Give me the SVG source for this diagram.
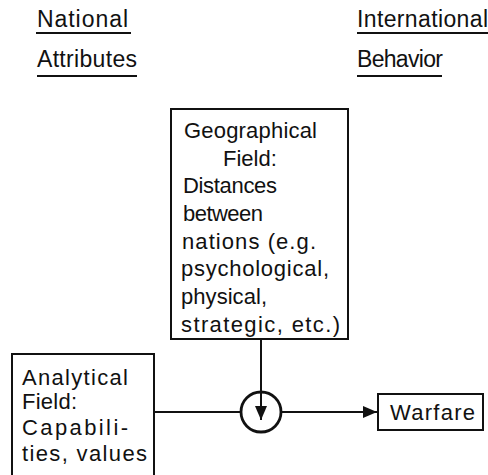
<svg xmlns="http://www.w3.org/2000/svg" width="488" height="475" viewBox="0 0 488 475">
  <style>
    text { font-family: "Liberation Sans", Arial, sans-serif; fill: #111; }
    .hd { font-size: 23px; }
    .bx { font-size: 22px; }
    .box { fill: #fff; stroke: #111; stroke-width: 2; }
    .ul { stroke: #111; stroke-width: 1.8; }
    .conn { stroke: #111; stroke-width: 2; fill: none; }
  </style>
  <defs>
    <marker id="arr" viewBox="0 0 14 12" refX="14" refY="6" markerWidth="14" markerHeight="12" markerUnits="userSpaceOnUse" orient="auto">
      <path d="M0,0 L14,6 L0,12 Z" fill="#111"/>
    </marker>
  </defs>
  <rect width="488" height="475" fill="#fff"/>

  <g id="header-national">
    <text class="hd" x="37" y="27" textLength="91" lengthAdjust="spacing">National</text>
    <line class="ul" x1="36" y1="33" x2="131" y2="33"/>
    <text class="hd" x="37" y="67" textLength="100" lengthAdjust="spacing">Attributes</text>
    <line class="ul" x1="37" y1="76" x2="137" y2="76"/>
  </g>
  <g id="header-international">
    <text class="hd" x="357" y="27" textLength="131" lengthAdjust="spacing">International</text>
    <line class="ul" x1="357" y1="33" x2="488" y2="33"/>
    <text class="hd" x="357" y="67" textLength="86" lengthAdjust="spacing">Behavior</text>
    <line class="ul" x1="357" y1="76" x2="442" y2="76"/>
  </g>

  <g id="node-geographical">
    <rect class="box" x="171" y="109" width="177" height="230"/>
    <text class="bx" x="184" y="138" textLength="133" lengthAdjust="spacing">Geographical</text>
    <text class="bx" x="223" y="166">Field:</text>
    <text class="bx" x="183" y="193" textLength="94" lengthAdjust="spacing">Distances</text>
    <text class="bx" x="183" y="221" textLength="80" lengthAdjust="spacing">between</text>
    <text class="bx" x="182" y="249" textLength="134" lengthAdjust="spacing">nations (e.g.</text>
    <text class="bx" x="181" y="276" textLength="148" lengthAdjust="spacing">psychological,</text>
    <text class="bx" x="181" y="304" textLength="86" lengthAdjust="spacing">physical,</text>
    <text class="bx" x="181" y="332" textLength="159" lengthAdjust="spacing">strategic, etc.)</text>
  </g>

  <g id="node-analytical">
    <rect class="box" x="12" y="354" width="142" height="130"/>
    <text class="bx" x="22" y="385" textLength="106" lengthAdjust="spacing">Analytical</text>
    <text class="bx" x="22" y="409" textLength="55" lengthAdjust="spacing">Field:</text>
    <text class="bx" x="22" y="435" textLength="106" lengthAdjust="spacing">Capabili-</text>
    <text class="bx" x="22" y="461" textLength="125" lengthAdjust="spacing">ties, values</text>
  </g>

  <g id="node-junction">
    <circle cx="261" cy="412" r="20" fill="#fff" stroke="#111" stroke-width="2.8"/>
  </g>

  <g id="node-warfare">
    <rect class="box" x="378" y="394" width="105" height="36"/>
    <text class="bx" x="390" y="420" textLength="85" lengthAdjust="spacing">Warfare</text>
  </g>

  <g id="connectors">
    <line class="conn" x1="154" y1="412" x2="241" y2="412"/>
    <line class="conn" x1="281" y1="412" x2="377" y2="412" marker-end="url(#arr)"/>
    <line class="conn" x1="261" y1="339" x2="261" y2="420" marker-end="url(#arr)"/>
  </g>
</svg>
